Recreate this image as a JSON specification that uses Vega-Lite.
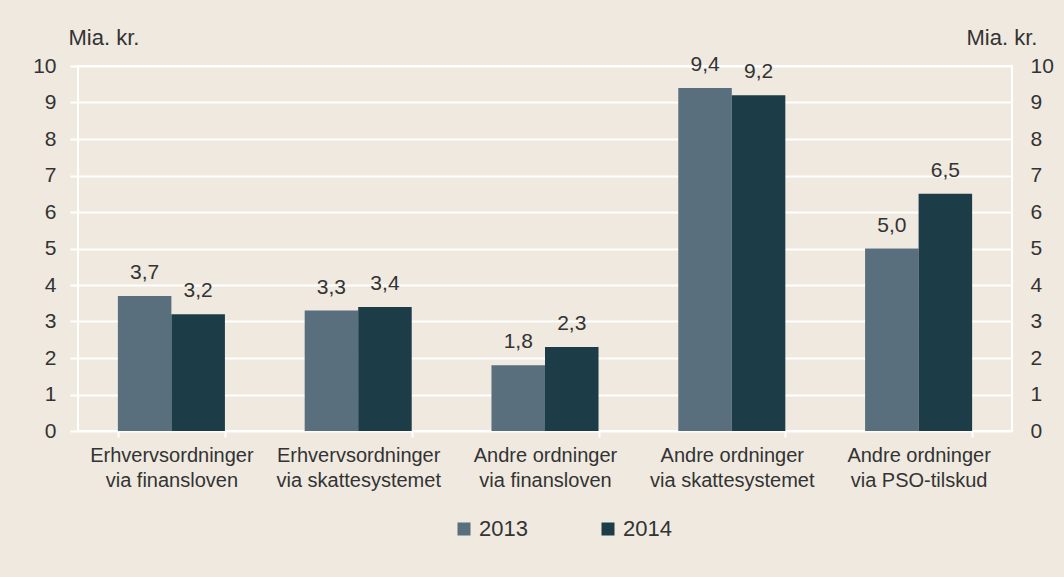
{
  "$schema": "https://vega.github.io/schema/vega-lite/v6.json",
  "width": 934,
  "height": 365,
  "autosize": "none",
  "padding": {"left": 78, "top": 66, "right": 52, "bottom": 146},
  "background": "#efe9df",
  "config": {
    "locale": {"number": {"decimal": ",", "thousands": ".", "grouping": [3], "currency": ["", " kr."]}},
    "view": {"stroke": "white", "strokeWidth": 2},
    "font": "Liberation Sans",
    "axis": {"labelColor": "#333333", "titleColor": "#333333", "labelFont": "Liberation Sans", "titleFont": "Liberation Sans"}
  },
  "data": {
    "values": [
      {"kat": "Erhvervsordninger|via finansloven", "aar": "2013", "v": 3.7},
      {"kat": "Erhvervsordninger|via finansloven", "aar": "2014", "v": 3.2},
      {"kat": "Erhvervsordninger|via skattesystemet", "aar": "2013", "v": 3.3},
      {"kat": "Erhvervsordninger|via skattesystemet", "aar": "2014", "v": 3.4},
      {"kat": "Andre ordninger|via finansloven", "aar": "2013", "v": 1.8},
      {"kat": "Andre ordninger|via finansloven", "aar": "2014", "v": 2.3},
      {"kat": "Andre ordninger|via skattesystemet", "aar": "2013", "v": 9.4},
      {"kat": "Andre ordninger|via skattesystemet", "aar": "2014", "v": 9.2},
      {"kat": "Andre ordninger|via PSO-tilskud", "aar": "2013", "v": 5.0},
      {"kat": "Andre ordninger|via PSO-tilskud", "aar": "2014", "v": 6.5}
    ]
  },
  "encoding": {
    "x": {
      "field": "kat",
      "type": "nominal",
      "sort": null,
      "scale": {"paddingInner": 0.427, "paddingOuter": 0.2135},
      "axis": {
        "title": null,
        "labelAngle": 0,
        "labelExpr": "split(datum.label, '|')",
        "labelFontSize": 20,
        "labelLineHeight": 25,
        "labelPadding": 8,
        "labelBaseline": "top",
        "domain": false,
        "ticks": true,
        "tickBand": "extent",
        "tickColor": "white",
        "tickWidth": 2,
        "tickSize": 6
      }
    },
    "xOffset": {"field": "aar", "type": "nominal", "sort": ["2013", "2014"]}
  },
  "layer": [
    {
      "mark": {"type": "bar"},
      "encoding": {
        "y": {
          "field": "v",
          "type": "quantitative",
          "scale": {"domain": [0, 10], "nice": false},
          "axis": {
            "title": "Mia. kr.",
            "titleAngle": 0,
            "titleAlign": "left",
            "titleBaseline": "middle",
            "titleX": -10,
            "titleY": -29,
            "titleFontSize": 22,
            "titleFontWeight": "normal",
            "values": [0, 1, 2, 3, 4, 5, 6, 7, 8, 9, 10],
            "labelOverlap": false,
            "labelFontSize": 21,
            "labelPadding": 14,
            "domain": false,
            "ticks": true,
            "tickColor": "white",
            "tickWidth": 2,
            "tickSize": 8,
            "grid": true,
            "gridColor": "white",
            "gridWidth": 2,
            "gridOpacity": 1
          }
        },
        "color": {
          "field": "aar",
          "type": "nominal",
          "scale": {"domain": ["2013", "2014"], "range": ["#5a6f7e", "#1c3c48"]},
          "legend": {
            "title": null,
            "orient": "none",
            "direction": "horizontal",
            "legendX": 375,
            "legendY": 452,
            "symbolType": "square",
            "symbolSize": 169,
            "symbolStrokeWidth": 0,
            "symbolOpacity": 1,
            "labelFontSize": 22,
            "labelColor": "#333333",
            "labelFont": "Liberation Sans",
            "labelOffset": 4,
            "columnPadding": 69,
            "padding": 0
          }
        }
      }
    },
    {
      "mark": {"type": "text", "baseline": "alphabetic", "dy": -17, "fontSize": 21, "color": "#333333", "font": "Liberation Sans"},
      "encoding": {
        "y": {
          "field": "v",
          "type": "quantitative",
          "axis": {
            "orient": "right",
            "title": "Mia. kr.",
            "titleAngle": 0,
            "titleAlign": "left",
            "titleBaseline": "middle",
            "titleX": -46,
            "titleY": -29,
            "titleFontSize": 22,
            "titleFontWeight": "normal",
            "values": [0, 1, 2, 3, 4, 5, 6, 7, 8, 9, 10],
            "labelOverlap": false,
            "labelFontSize": 21,
            "labelPadding": 18,
            "domain": false,
            "ticks": false,
            "grid": false
          }
        },
        "text": {"field": "v", "type": "quantitative", "format": ".1f"}
      }
    }
  ],
  "resolve": {"axis": {"y": "independent"}}
}
